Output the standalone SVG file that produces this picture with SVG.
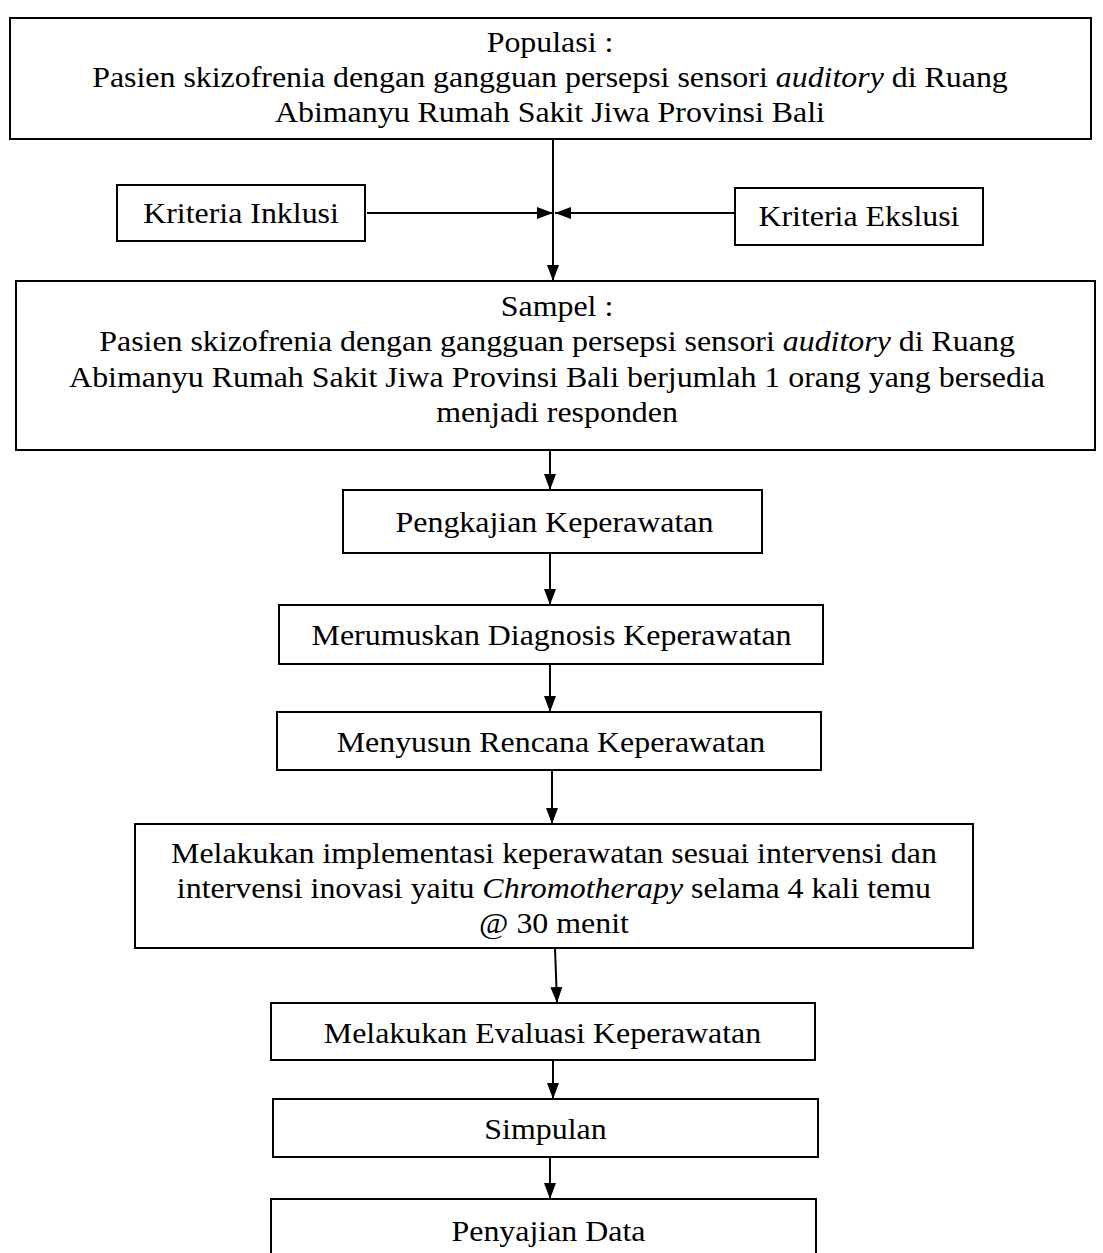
<svg xmlns="http://www.w3.org/2000/svg" width="1103" height="1253" viewBox="0 0 1103 1253">
<style>
.box{fill:#fff;stroke:#000;stroke-width:2}
.t{font-family:"Liberation Serif","Times New Roman",serif;font-size:29px;fill:#000;text-anchor:middle}
.c{stroke:#000;stroke-width:2;fill:none}
</style>
<defs>
<marker id="ah" viewBox="0 0 16 12" refX="16" refY="6" markerWidth="16" markerHeight="12" markerUnits="userSpaceOnUse" orient="auto">
<path d="M0,0 L16,6 L0,12 Z" fill="#000"/>
</marker>
</defs>
<rect width="1103" height="1253" fill="#fff"/>
<g id="connectors">
<path class="c" d="M553,139 V281" marker-end="url(#ah)"/>
<path class="c" d="M367,213 H553" marker-end="url(#ah)"/>
<path class="c" d="M735,213 H555" marker-end="url(#ah)"/>
<path class="c" d="M550,450 V490" marker-end="url(#ah)"/>
<path class="c" d="M550,553 V605" marker-end="url(#ah)"/>
<path class="c" d="M550,664 V712" marker-end="url(#ah)"/>
<path class="c" d="M552,770 V824" marker-end="url(#ah)"/>
<path class="c" d="M555,948 L557,1003" marker-end="url(#ah)"/>
<path class="c" d="M553,1060 V1099" marker-end="url(#ah)"/>
<path class="c" d="M550,1157 V1199" marker-end="url(#ah)"/>
</g>
<g id="populasi">
<rect class="box" x="10" y="18" width="1081" height="121"/>
<g transform="scale(1.1,1)">
<text class="t" x="500" y="52">Populasi :</text>
<text class="t" x="500" y="87">Pasien skizofrenia dengan gangguan persepsi sensori <tspan font-style="italic">auditory</tspan> di Ruang</text>
<text class="t" x="500" y="122">Abimanyu Rumah Sakit Jiwa Provinsi Bali</text>
</g>
</g>
<g id="inklusi">
<rect class="box" x="117" y="185" width="248" height="56"/>
<text class="t" transform="scale(1.1,1)" x="219.1" y="223">Kriteria Inklusi</text>
</g>
<g id="ekslusi">
<rect class="box" x="735" y="188" width="248" height="57"/>
<text class="t" transform="scale(1.1,1)" x="780.9" y="226">Kriteria Ekslusi</text>
</g>
<g id="sampel">
<rect class="box" x="16" y="281" width="1079" height="169"/>
<g transform="scale(1.1,1)">
<text class="t" x="506.4" y="316">Sampel :</text>
<text class="t" x="506.4" y="351">Pasien skizofrenia dengan gangguan persepsi sensori <tspan font-style="italic">auditory</tspan> di Ruang</text>
<text class="t" x="506.4" y="387">Abimanyu Rumah Sakit Jiwa Provinsi Bali berjumlah 1 orang yang bersedia</text>
<text class="t" x="506.4" y="422">menjadi responden</text>
</g>
</g>
<g id="pengkajian">
<rect class="box" x="343" y="490" width="419" height="63"/>
<text class="t" transform="scale(1.1,1)" x="504.1" y="532">Pengkajian Keperawatan</text>
</g>
<g id="diagnosis">
<rect class="box" x="279" y="605" width="544" height="59"/>
<text class="t" transform="scale(1.1,1)" x="501.4" y="645">Merumuskan Diagnosis Keperawatan</text>
</g>
<g id="rencana">
<rect class="box" x="277" y="712" width="544" height="58"/>
<text class="t" transform="scale(1.1,1)" x="500.9" y="752">Menyusun Rencana Keperawatan</text>
</g>
<g id="implementasi">
<rect class="box" x="135" y="824" width="838" height="124"/>
<g transform="scale(1.1,1)">
<text class="t" x="503.6" y="863">Melakukan implementasi keperawatan sesuai intervensi dan</text>
<text class="t" x="503.6" y="898">intervensi inovasi yaitu <tspan font-style="italic">Chromotherapy</tspan> selama 4 kali temu</text>
<text class="t" x="503.6" y="933">@ 30 menit</text>
</g>
</g>
<g id="evaluasi">
<rect class="box" x="271" y="1003" width="544" height="57"/>
<text class="t" transform="scale(1.1,1)" x="493.2" y="1043">Melakukan Evaluasi Keperawatan</text>
</g>
<g id="simpulan">
<rect class="box" x="273" y="1099" width="545" height="58"/>
<text class="t" transform="scale(1.1,1)" x="495.9" y="1139">Simpulan</text>
</g>
<g id="penyajian">
<rect class="box" x="271" y="1199" width="545" height="80"/>
<text class="t" transform="scale(1.1,1)" x="498.6" y="1241">Penyajian Data</text>
</g>
</svg>
